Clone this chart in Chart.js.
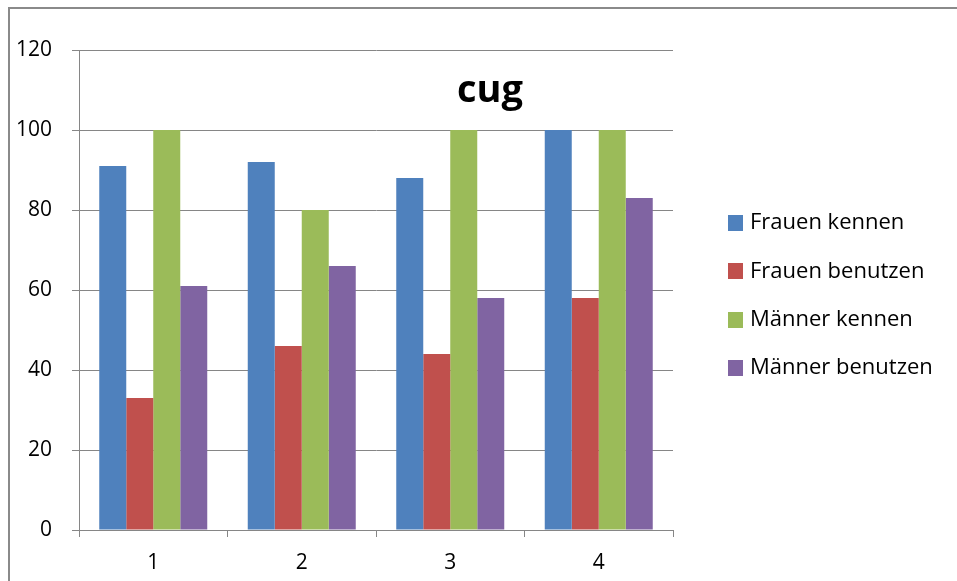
<!DOCTYPE html>
<html>
<head>
<meta charset="utf-8">
<script src="https://cdn.jsdelivr.net/npm/chart.js@4/dist/chart.umd.min.js"></script>
<style>
  html, body { margin: 0; padding: 0; background: #ffffff; }
  #wrap { position: relative; width: 957px; height: 581px; }
</style>
</head>
<body>
<div id="wrap"><canvas id="c" width="957" height="581"></canvas></div>
<script>
// Categories and series values
const categories = ['1', '2', '3', '4'];
const frauenKennen = [91, 92, 88, 100];
const frauenBenutzen = [33, 46, 44, 58];
const maennerKennen = [100, 80, 100, 100];
const maennerBenutzen = [61, 66, 58, 83];
const seriesNames = ['Frauen kennen', 'Frauen benutzen', 'Männer kennen', 'Männer benutzen'];
const seriesColors = ['#4f81bd', '#c0504d', '#9bbb59', '#8064a2'];
const yMin = 0, yMax = 120, yStep = 20;
const chartTitle = 'cug';

const FONT = '"Open Sans", "Noto Sans", sans-serif';
const GRID = '#868686';

// Frame, title and legend drawn on the canvas
const decorations = {
  id: 'decorations',
  beforeDraw(chart) {
    const ctx = chart.ctx;
    ctx.save();
    ctx.fillStyle = '#ffffff';
    ctx.fillRect(0, 0, chart.width, chart.height);
    ctx.strokeStyle = '#8a8a8a';
    ctx.lineWidth = 2;
    ctx.beginPath();
    ctx.moveTo(9, chart.height);
    ctx.lineTo(9, 8);
    ctx.lineTo(chart.width, 8);
    ctx.stroke();
    ctx.restore();
  },
  afterDraw(chart) {
    const ctx = chart.ctx;
    ctx.save();
    ctx.fillStyle = '#000000';
    ctx.font = 'bold 38px ' + FONT;
    ctx.textAlign = 'center';
    ctx.textBaseline = 'alphabetic';
    ctx.fillText(chartTitle, 490, 102);

    ctx.font = '22px ' + FONT;
    ctx.textAlign = 'left';
    ctx.textBaseline = 'middle';
    chart.data.datasets.forEach((ds, i) => {
      const cy = 223 + i * 48.3;
      ctx.fillStyle = ds.backgroundColor;
      ctx.fillRect(728, Math.round(cy - 8), 15, 16);
      ctx.fillStyle = '#000000';
      ctx.fillText(ds.label, 750, cy);
    });
    ctx.restore();
  }
};

const seriesValues = [frauenKennen, frauenBenutzen, maennerKennen, maennerBenutzen];

new Chart(document.getElementById('c'), {
  type: 'bar',
  data: {
    labels: categories,
    datasets: seriesValues.map((vals, i) => ({
      label: seriesNames[i],
      data: vals,
      backgroundColor: seriesColors[i],
      borderWidth: 0,
      categoryPercentage: 4 / 5.5,
      barPercentage: 1.0
    }))
  },
  options: {
    responsive: false,
    devicePixelRatio: 1,
    animation: false,
    layout: { padding: { top: 50, right: 284, bottom: 0, left: 0 } },
    plugins: {
      legend: { display: false },
      title: { display: false },
      tooltip: { enabled: false }
    },
    scales: {
      x: {
        afterFit(scale) { scale.height = 51; },
        grid: { display: true, drawOnChartArea: false, drawTicks: true, tickLength: 7, color: GRID, offset: true },
        border: { display: true, color: GRID, width: 1 },
        ticks: { color: '#000000', font: { family: FONT, size: 21 }, padding: 13, maxRotation: 0 }
      },
      y: {
        min: yMin,
        max: yMax,
        afterFit(scale) { scale.width = 79; },
        grid: { color: GRID, tickLength: 7, drawTicks: true },
        border: { display: true, color: GRID, width: 1 },
        ticks: { stepSize: yStep, color: '#000000', font: { family: FONT, size: 21 }, padding: 20 }
      }
    }
  },
  plugins: [decorations]
});
</script>
</body>
</html>
